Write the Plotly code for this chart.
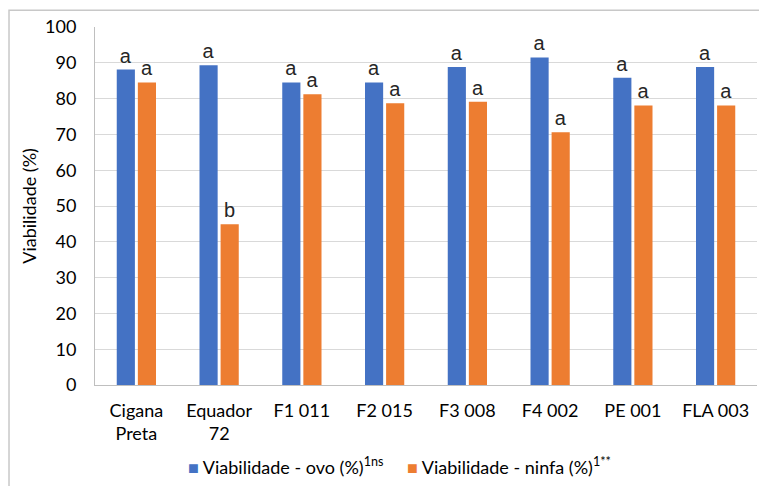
import plotly.graph_objects as go

categories = ["Cigana<br>Preta", "Equador<br>72", "F1 011", "F2 015", "F3 008", "F4 002", "PE 001", "FLA 003"]
ovo = [88.1, 89.3, 84.5, 84.5, 88.8, 91.5, 85.8, 88.8]
ninfa = [84.5, 44.9, 81.2, 78.7, 79.1, 70.6, 78.1, 78.1]
ovo_letters = ["a"] * 8
ninfa_letters = ["a", "b", "a", "a", "a", "a", "a", "a"]
y_ticks = list(range(0, 101, 10))
series_names = ["Viabilidade - ovo (%)<sup>1ns</sup>", "Viabilidade - ninfa (%)<sup>1**</sup>"]
colors = ["#4472C4", "#ED7D31"]

font_fam = "Lato, Open Sans, sans-serif"
lab_font = dict(family="Liberation Sans, Arial, sans-serif", size=20, color="#262626")

fig = go.Figure()
fig.add_trace(go.Bar(
    x=categories, y=ovo, name=series_names[0],
    marker=dict(color=colors[0], line=dict(width=0)),
    text=ovo_letters, textposition="outside", cliponaxis=False, textfont=lab_font,
))
fig.add_trace(go.Bar(
    x=categories, y=ninfa, name=series_names[1],
    marker=dict(color=colors[1], line=dict(width=0)),
    text=ninfa_letters, textposition="outside", cliponaxis=False, textfont=lab_font,
))

fig.update_layout(
    width=759, height=478,
    margin=dict(l=87, r=10, t=19, b=101, autoexpand=False),
    paper_bgcolor="white", plot_bgcolor="white",
    barmode="group", bargap=0.49, bargroupgap=0.14,
    font=dict(family=font_fam, size=18, color="#000000"),
    showlegend=False,
    xaxis=dict(showline=True, linecolor="#BFBFBF", linewidth=1, ticks="",
               tickfont=dict(size=18), showgrid=False, automargin=False,
               ticklabelstandoff=9),
    yaxis=dict(range=[0, 100], tickvals=y_ticks, showgrid=True, gridcolor="#D9D9D9",
               showline=True, linecolor="#BFBFBF", linewidth=1, ticks="",
               tickfont=dict(size=18), zeroline=False, automargin=False,
               ticklabelstandoff=14),
)

# y-axis title
fig.add_annotation(text="Viabilidade (%)", xref="paper", yref="paper",
                   x=-0.1, y=0.5, xanchor="center", yanchor="middle",
                   textangle=-90, showarrow=False, font=dict(size=18))

# legend built as text
fig.add_annotation(
    text=f"<span style='color:{colors[0]}'>■</span> {series_names[0]}",
    xref="paper", yref="paper", x=0.137, y=-0.226, xanchor="left", yanchor="middle",
    showarrow=False, font=dict(size=18))
fig.add_annotation(
    text=f"<span style='color:{colors[1]}'>■</span> {series_names[1]}",
    xref="paper", yref="paper", x=0.468, y=-0.226, xanchor="left", yanchor="middle",
    showarrow=False, font=dict(size=18))

# chart frame (top and left edges)
fig.add_shape(type="rect", xref="paper", yref="paper", x0=-0.1299, x1=1.03, y0=-0.3, y1=1.047,
              line=dict(color="#C8C8C8", width=1.5), fillcolor="rgba(0,0,0,0)", layer="above")

fig.write_html("out.html")
